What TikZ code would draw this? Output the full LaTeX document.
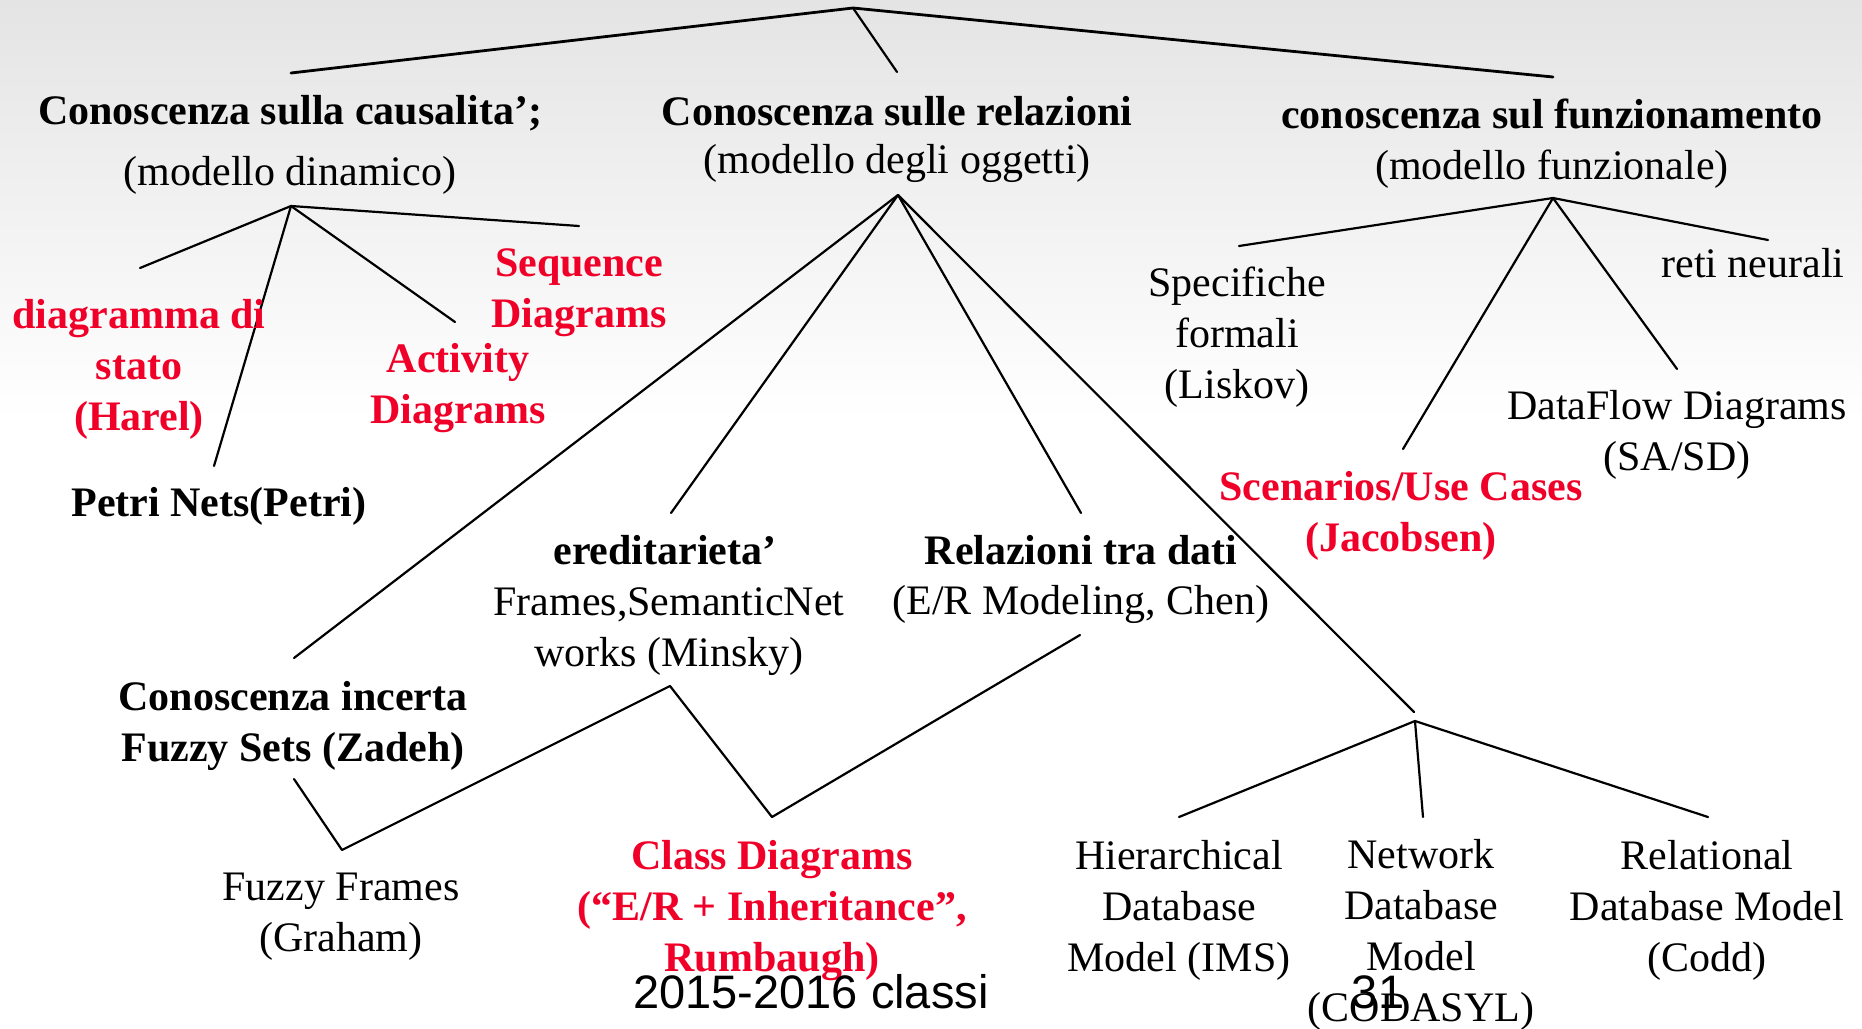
\documentclass[tikz,border=0pt]{standalone}
\usepackage{fontspec}
\setmainfont{Liberation Serif}
\newfontfamily\footerfont{Liberation Sans}
\definecolor{accent}{RGB}{240,0,40}
\definecolor{bgtop}{RGB}{228,228,228}
\begin{document}
\begin{tikzpicture}[x=0.5pt,y=-0.5pt,
  txt/.style={font=\fontsize{21}{25.5}\selectfont, align=center, anchor=base, inner sep=0pt},
  hd/.style={txt, font=\fontsize{21}{25.5}\selectfont\bfseries},
  hot/.style={hd, text=accent},
  edge/.style={line width=1.1pt, line cap=round, line join=round},
  trunk/.style={edge, line width=1.4pt},
  foot/.style={font=\footerfont\fontsize{23.5}{28}\selectfont, anchor=base, inner sep=0pt}]

% page and background fade
\useasboundingbox (0,0) rectangle (1862,1028);
\fill[white] (0,0) rectangle (1862,1028);
\shade[top color=bgtop, bottom color=white] (0,0) rectangle (1862,420);

% branching points and connector ends
\coordinate (root) at (853,8);
\coordinate (rA) at (291,73);
\coordinate (rB) at (897,72);
\coordinate (rC) at (1553,77);

\coordinate (dynTop) at (291,206);
\coordinate (dynA) at (140,268);
\coordinate (dynB) at (214,466);
\coordinate (dynC) at (455,322);
\coordinate (dynD) at (579,226);

\coordinate (objTop) at (898,195);
\coordinate (objA) at (294,658);
\coordinate (objB) at (671,513);
\coordinate (objC) at (1081,513);
\coordinate (objD) at (1414,712);

\coordinate (funTop) at (1553,198);
\coordinate (funA) at (1239,246);
\coordinate (funB) at (1403,449);
\coordinate (funC) at (1677,369);
\coordinate (funD) at (1768,240);

\coordinate (dbTop) at (1415,721);
\coordinate (dbA) at (1179,817);
\coordinate (dbB) at (1423,817);
\coordinate (dbC) at (1708,817);

\coordinate (z0) at (294,779);
\coordinate (z1) at (342,850);
\coordinate (z2) at (670,686);
\coordinate (z3) at (772,817);
\coordinate (z4) at (1080,635);

% connectors
\draw[trunk] (rA) -- (root) -- (rC);
\draw[edge] (root) -- (rB);

\draw[edge] (dynA) -- (dynTop) -- (dynD);
\draw[edge] (dynTop) -- (dynB);
\draw[edge] (dynTop) -- (dynC);

\draw[edge] (objTop) -- (objA);
\draw[edge] (objTop) -- (objB);
\draw[edge] (objTop) -- (objC);
\draw[edge] (objTop) -- (objD);

\draw[edge] (funA) -- (funTop) -- (funD);
\draw[edge] (funTop) -- (funB);
\draw[edge] (funTop) -- (funC);

\draw[edge] (dbA) -- (dbTop) -- (dbC);
\draw[edge] (dbTop) -- (dbB);

\draw[edge] (z0) -- (z1) -- (z2) -- (z3) -- (z4);

% top level (anchored at the baseline of the last line)
\node[hd] (causal) at (290,185) {Conoscenza sulla causalita’;\\[5pt]\normalfont(modello dinamico)};
\node[hd] (relaz) at (897,173) {Conoscenza sulle relazioni\\[-1.5pt]\normalfont(modello degli oggetti)};
\node[hd] (funz) at (1552,179) {conoscenza sul funzionamento\\\normalfont(modello funzionale)};

% dynamic model
\node[hot] (stato) at (139,430) {diagramma di\\stato\\(Harel)};
\node[hd] (petri) at (219,516) {Petri Nets(Petri)};
\node[hot] (activity) at (458,423) {Activity\\Diagrams};
\node[hot] (sequence) at (579,327) {Sequence\\Diagrams};

% object model
\node[hd] (incerta) at (293,761) {Conoscenza incerta\\Fuzzy Sets (Zadeh)};
\node[txt] (ffuzzy) at (341,951) {Fuzzy Frames\\(Graham)};
\node[hd] (ered) at (665,564) {ereditarieta’};
\node[txt] (frames) at (669,666) {Frames,SemanticNet\\works (Minsky)};
\node[hd] (reldati) at (1081,564) {Relazioni tra dati};
\node[txt] (chen) at (1081,614) {(E/R Modeling, Chen)};
\node[hot] (classd) at (772,971) {Class Diagrams\\(“E/R + Inheritance”,\\Rumbaugh)};

% databases
\node[txt] (hier) at (1179,971) {Hierarchical\\Database\\Model (IMS)};
\node[txt] (netw) at (1421,1021) {Network\\Database\\Model\\(CODASYL)};
\node[txt] (relat) at (1707,971) {Relational\\Database Model\\(Codd)};

% functional model
\node[txt] (spec) at (1237,398) {Specifiche\\formali\\(Liskov)};
\node[txt] (reti) at (1753,277) {reti neurali};
\node[txt] (dfd) at (1677,470) {DataFlow Diagrams\\(SA/SD)};
\node[hot] (usecase) at (1401,551) {Scenarios/Use Cases\\(Jacobsen)};

% footer
\node[foot] (course) at (811,1008) {2015-2016 classi};
\node[foot] (page) at (1378,1008) {31};
\end{tikzpicture}
\end{document}
